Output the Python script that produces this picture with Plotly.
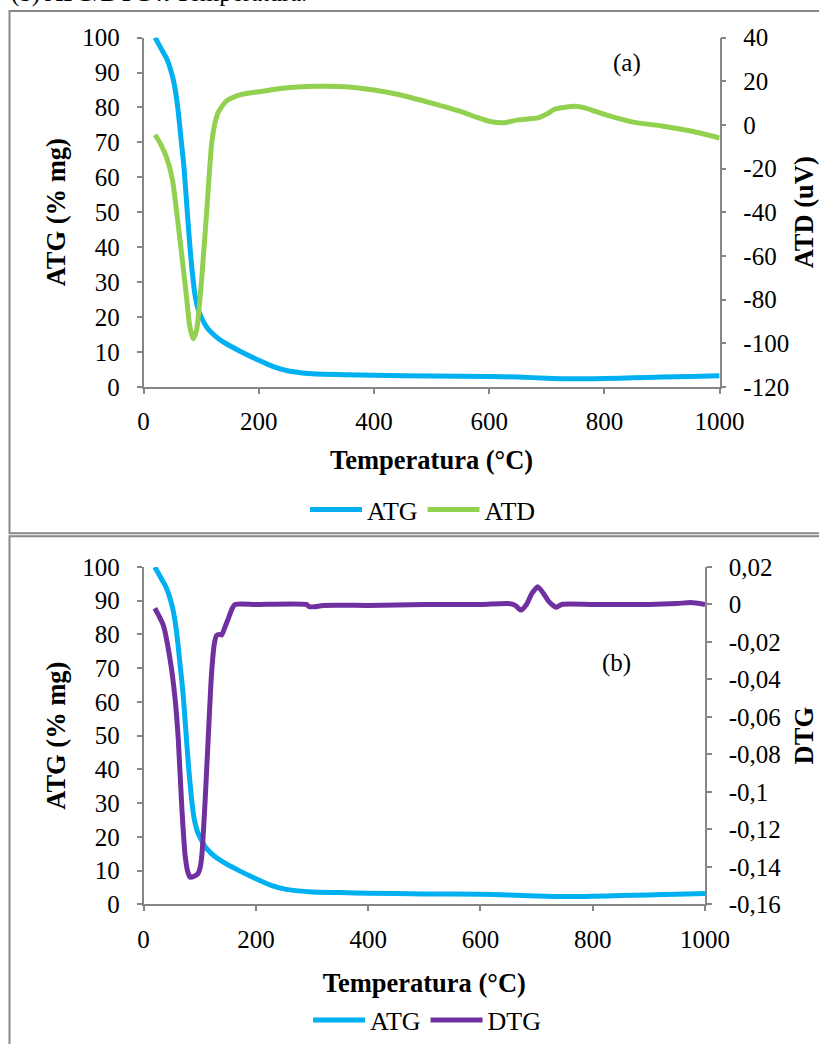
import plotly.graph_objects as go

# ---------------- data ----------------
temp_atg = [20, 30, 40, 50, 55, 60, 65, 70, 75, 80, 85, 90, 95, 100, 110, 120, 130, 145,
            170, 200, 225, 250, 275, 300, 350, 400, 500, 600, 650, 700, 750, 800, 850,
            900, 950, 1000]
atg = [100, 97, 94, 89, 85, 79, 71, 63, 52, 41, 32, 25.5, 22, 20, 17, 15.2, 13.8, 12.2,
       10, 7.6, 5.8, 4.6, 4.0, 3.7, 3.5, 3.3, 3.1, 3.0, 2.8, 2.5, 2.3, 2.4, 2.6,
       2.8, 3.0, 3.2]

temp_atd = [20, 30, 40, 50, 57, 66, 75, 80, 86, 92, 96, 101, 110, 118, 124, 130, 144,
            167, 200, 250, 300, 350, 400, 450, 500, 550, 580, 600, 625, 650, 685, 700,
            715, 750, 770, 800, 850, 900, 950, 1000]
atd = [-4.5, -9, -15, -25, -39, -59, -80, -92, -98, -94, -85, -70, -38, -9, 1, 6, 11,
       13.8, 15.2, 17, 17.7, 17.5, 16, 13.5, 10, 6.2, 3.3, 1.7, 1.0, 2.3, 3.2, 5,
       7.3, 8.5, 7.5, 4.8, 1.3, -0.5, -2.8, -6]

temp_dtg = [20, 35, 47, 56, 62, 68, 74, 79, 83, 90, 97, 101, 104, 109, 115, 121, 126,
            130, 135, 139, 145, 151, 158, 163, 200, 290, 295, 305, 320, 400, 450, 500,
            600, 650, 662, 672, 682, 692, 702, 712, 722, 735, 745, 800, 900, 950, 975, 1000]
dtg = [-0.002, -0.011, -0.029, -0.050, -0.073, -0.108, -0.134, -0.143, -0.1455, -0.145,
       -0.1435, -0.140, -0.133, -0.108, -0.072, -0.037, -0.021, -0.0165, -0.016, -0.0163,
       -0.012, -0.0074, -0.002, 0.0, 0.0, 0.0, -0.0012, -0.0012, -0.0005, -0.0005, -0.0003,
       0.0, 0.0, 0.0005, -0.0005, -0.003, 0.0, 0.006, 0.0095, 0.006, 0.0015, -0.0015, 0.0,
       0.0, 0.0, 0.0005, 0.001, 0.0]

x_ticks = [0, 200, 400, 600, 800, 1000]
atg_ticks = [0, 10, 20, 30, 40, 50, 60, 70, 80, 90, 100]
atd_ticks = [-120, -100, -80, -60, -40, -20, 0, 20, 40]
atd_ticktext = ["-120", "-100", "-80", "-60", "-40", "-20", "0", "20", "40"]
dtg_ticks = [-0.16, -0.14, -0.12, -0.1, -0.08, -0.06, -0.04, -0.02, 0, 0.02]
dtg_ticktext = ["-0,16", "-0,14", "-0,12", "-0,1", "-0,08", "-0,06", "-0,04", "-0,02", "0", "0,02"]

# ---------------- style ----------------
W, H = 819, 1044
FONT = "Liberation Serif"
AXC = "#868686"
C_ATG = "#00B0F0"
C_ATD = "#92D050"
C_DTG = "#7030A0"

def px_x(p):
    return p / W

def px_y(p):
    return 1 - p / H

fig = go.Figure()

spline = dict(shape="spline", smoothing=0.6, width=5)

fig.add_trace(go.Scatter(x=temp_atg, y=atg, name="ATG", mode="lines",
                         line=dict(color=C_ATG, **spline), xaxis="x", yaxis="y",
                         legend="legend"))
fig.add_trace(go.Scatter(x=temp_atd, y=atd, name="ATD", mode="lines",
                         line=dict(color=C_ATD, **spline), xaxis="x", yaxis="y2",
                         legend="legend"))
fig.add_trace(go.Scatter(x=temp_atg, y=atg, name="ATG", mode="lines",
                         line=dict(color=C_ATG, **spline), xaxis="x2", yaxis="y3",
                         legend="legend2"))
fig.add_trace(go.Scatter(x=temp_dtg, y=dtg, name="DTG", mode="lines",
                         line=dict(color=C_DTG, **spline), xaxis="x2", yaxis="y4",
                         legend="legend2"))

axis_common = dict(showline=True, linecolor=AXC, linewidth=1.5, ticks="outside",
                   ticklen=5, tickwidth=1.5, tickcolor=AXC, showgrid=False,
                   zeroline=False, tickfont=dict(family=FONT, size=25, color="black"),
                   automargin=False)
title_font = dict(family=FONT, size=26.5, color="black", weight="bold")
legend_font = dict(family=FONT, size=26, color="black")

top_y = [px_y(391), px_y(38)]
bot_y = [px_y(914), px_y(573)]

fig.update_layout(
    width=W, height=H,
    margin=dict(l=0, r=0, t=0, b=0),
    paper_bgcolor="white", plot_bgcolor="white",
    font=dict(family=FONT, size=25, color="black"),
    showlegend=True,
    xaxis=dict(domain=[px_x(143.6), px_x(719.6)], anchor="y", range=[0, 1000],
               tickvals=x_ticks, ticklabelstandoff=6,
               title=dict(text="Temperatura (°C)", font=title_font, standoff=17),
               **axis_common),
    yaxis=dict(domain=top_y, anchor="x", range=[0, 100], tickvals=atg_ticks,
               ticklabelstandoff=12,
               title=dict(text="ATG (% mg)", font=title_font, standoff=9),
               **axis_common),
    yaxis2=dict(overlaying="y", side="right", anchor="x", range=[-120, 40],
                tickvals=atd_ticks, ticktext=atd_ticktext, ticklabelstandoff=12,
                title=dict(text="ATD (uV)", font=title_font, standoff=12),
                **axis_common),
    xaxis2=dict(domain=[px_x(143.6), px_x(705)], anchor="y3", range=[0, 1000],
                tickvals=x_ticks, ticklabelstandoff=7,
                title=dict(text="Temperatura (°C)", font=title_font, standoff=21),
                **axis_common),
    yaxis3=dict(domain=bot_y, anchor="x2", range=[0, 100], tickvals=atg_ticks,
                ticklabelstandoff=12,
                title=dict(text="ATG (% mg)", font=title_font, standoff=9),
                **axis_common),
    yaxis4=dict(overlaying="y3", side="right", anchor="x2", range=[-0.16, 0.02],
                tickvals=dtg_ticks, ticktext=dtg_ticktext, ticklabelstandoff=12,
                title=dict(text="DTG", font=title_font, standoff=17),
                **axis_common),
    legend=dict(orientation="h", x=px_x(423), xanchor="center", y=px_y(515),
                yanchor="middle", font=legend_font, itemwidth=52,
                bgcolor="rgba(0,0,0,0)"),
    legend2=dict(orientation="h", x=px_x(427), xanchor="center", y=px_y(1031),
                 yanchor="middle", font=legend_font, itemwidth=52,
                 bgcolor="rgba(0,0,0,0)"),
    shapes=[
        dict(type="rect", xref="paper", yref="paper", x0=px_x(9.5), x1=1.05,
             y0=px_y(539), y1=px_y(11), line=dict(color="#888888", width=2)),
        dict(type="rect", xref="paper", yref="paper", x0=px_x(9.5), x1=1.05,
             y0=-0.05, y1=px_y(542), line=dict(color="#888888", width=2)),
    ],
    annotations=[
        dict(text="(a)", xref="paper", yref="paper", x=px_x(627), y=px_y(64),
             xanchor="center", yanchor="middle",
             showarrow=False, font=dict(family=FONT, size=25, color="black")),
        dict(text="(b)", xref="paper", yref="paper", x=px_x(616), y=px_y(670),
             xanchor="center", yanchor="middle",
             showarrow=False, font=dict(family=FONT, size=25, color="black")),
        dict(text="(b) ATG/DTG <i>x</i> Temperatura.", xref="paper", yref="paper",
             x=px_x(9), xanchor="left", y=px_y(9), yanchor="bottom",
             showarrow=False, font=dict(family=FONT, size=25, color="black")),
    ],
)

# remove the browser's default 8px body margin so the figure sits at the page origin
fig.write_html("out.html", config={"displayModeBar": False},
               post_script="document.body.style.margin='0';document.body.style.overflow='hidden';")
